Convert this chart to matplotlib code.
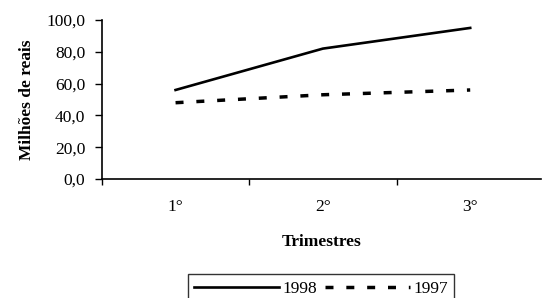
import matplotlib.pyplot as plt
from matplotlib.ticker import FuncFormatter

trimestres = ["1°", "2°", "3°"]
valores_1998 = [56.0, 82.0, 95.0]
valores_1997 = [48.0, 53.0, 56.0]
yticks = [0, 20, 40, 60, 80, 100]

plt.rcParams["font.family"] = ["Liberation Serif", "DejaVu Serif"]


def main():
    fig = plt.figure(figsize=(5.42, 2.98), dpi=100)
    ax = fig.add_axes([0.188, 0.399, 0.81, 0.534])

    x = list(range(1, len(trimestres) + 1))
    ax.plot(x, valores_1998, color="black", lw=1.9, label="1998")
    ax.plot(x, valores_1997, color="black", lw=2.5, ls=(0, (2.3, 3.7)),
            label="1997")

    ax.set_xlim(0.5, 3.48)
    ax.set_ylim(0, 100)
    ax.set_yticks(yticks)
    ax.yaxis.set_major_formatter(FuncFormatter(lambda v, p: f"{v:.1f}".replace(".", ",")))
    ax.set_xticks([0.5, 1.5, 2.5])
    ax.set_xticklabels([])
    ax.set_xticks(x, minor=True)
    ax.set_xticklabels(trimestres, minor=True)
    ax.tick_params(axis="x", which="minor", length=0, pad=14, labelsize=12.5)
    ax.tick_params(axis="x", which="major", direction="out", length=4, width=1)
    ax.tick_params(axis="y", direction="out", length=5, width=1, labelsize=12.5, pad=7)

    for s in ["top", "right"]:
        ax.spines[s].set_visible(False)
    ax.spines["left"].set_linewidth(1.2)
    ax.spines["bottom"].set_linewidth(1.2)

    ax.set_ylabel("Milhões de reais", fontweight="bold", fontsize=12.5, labelpad=8)
    ax.set_xlabel("Trimestres", fontweight="bold", fontsize=12.5, labelpad=14)

    leg = fig.legend(loc="lower center", bbox_to_anchor=(0.592, -0.045), ncol=2,
                     frameon=True, fancybox=False, edgecolor="black",
                     fontsize=12.5, handlelength=4.9, handletextpad=0.2,
                     columnspacing=0.45, borderpad=0.35)
    leg.get_frame().set_linewidth(1.0)

    fig.savefig("out.png", dpi=100)


if __name__ == "__main__":
    main()
